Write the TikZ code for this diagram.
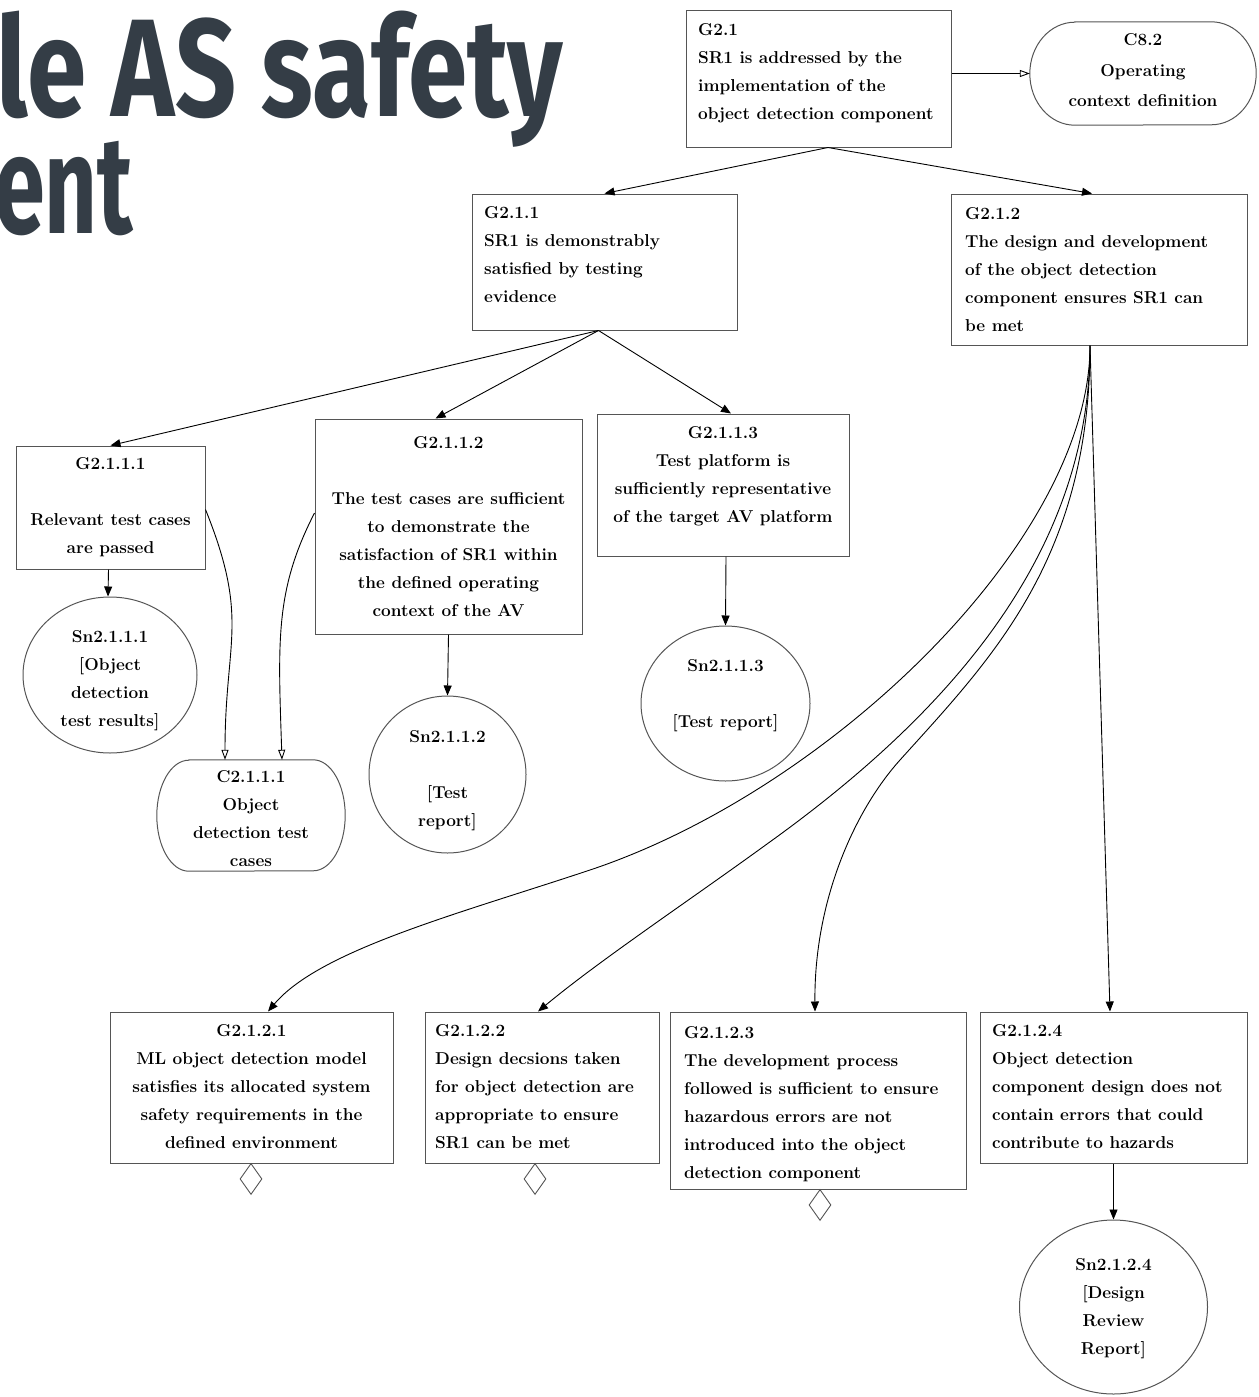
\documentclass[tikz,border=0pt]{standalone}
\usepackage{fontspec}
\newfontfamily\titlefont{Fira Sans}
\usetikzlibrary{shapes.geometric,arrows.meta}
\definecolor{titlecol}{HTML}{343D46}
\definecolor{boxcol}{HTML}{555555}
\newcommand\firstl{\rule{0pt}{20pt}}
\begin{document}
\begin{tikzpicture}[x=1pt,y=-1pt,
  box/.style={draw=boxcol, line width=1pt, rectangle, inner sep=0pt},
  ctxarea/.style={rectangle, inner sep=0pt},
  ctxline/.style={draw=boxcol, line width=1pt},
  sol/.style={draw=boxcol, line width=1pt, ellipse, inner sep=0pt},
  undev/.style={draw=boxcol, line width=0.9pt, diamond, inner sep=0pt, minimum width=22pt, minimum height=31pt, anchor=north},
  txt/.style={inner sep=0pt, font=\fontsize{17.2}{28}\selectfont\bfseries\addfontfeatures{LetterSpace=2}},
  tl/.style={txt, anchor=north west, align=left},
  tc/.style={txt, anchor=north, align=center},
  supp/.style={line width=0.9pt, -{Triangle[length=10pt,width=8pt]}},
  inctx/.style={line width=0.9pt, -{Triangle[open,length=10pt,width=7pt]}},
  ttl/.style={inner sep=0pt, anchor=base west, text=titlecol, font=\titlefont\bfseries\fontsize{139}{139}\selectfont},
]
\useasboundingbox (0,0) rectangle (1258,1397);
\clip (0,0) rectangle (1258,1397);

% title fragments
\node[ttl, text depth=0pt] (title1) at (-4,116) {\scalebox{0.77}[1]{le AS safety}};
\node[ttl, text height=80pt] (title2) at (-6,233) {\scalebox{0.66}[1]{ent}};

% ---- boxes and shapes
\node[box, minimum width=265pt, minimum height=136pt] (g21) at (818.5,79) {};
\node[ctxarea, minimum width=226pt, minimum height=103pt] (c82) at (1143,73.5) {};
\draw[ctxline] ([xshift=45pt]c82.north west) -- ([xshift=-45pt]c82.north east)
   arc[start angle=90, end angle=-90, x radius=45pt, y radius=51.5pt]
   -- ([xshift=45pt]c82.south west)
   arc[start angle=270, end angle=90, x radius=45pt, y radius=51.5pt] -- cycle;
\node[box, minimum width=265pt, minimum height=136pt] (g211) at (604.5,262) {};
\node[box, minimum width=296pt, minimum height=151pt] (g212) at (1099,269.5) {};
\node[box, minimum width=189pt, minimum height=123pt] (g2111) at (110.5,507.5) {};
\node[box, minimum width=267pt, minimum height=215pt] (g2112) at (448.5,526.5) {};
\node[box, minimum width=252pt, minimum height=142pt] (g2113) at (723,485) {};
\node[sol, minimum width=174pt, minimum height=156pt] (sn2111) at (110,675) {};
\node[ctxarea, minimum width=188pt, minimum height=111pt] (c2111) at (251,815.5) {};
\draw[ctxline] ([xshift=32pt]c2111.north west) -- ([xshift=-32pt]c2111.north east)
   arc[start angle=90, end angle=-90, x radius=32pt, y radius=55.5pt]
   -- ([xshift=32pt]c2111.south west)
   arc[start angle=270, end angle=90, x radius=32pt, y radius=55.5pt] -- cycle;
\node[sol, minimum width=157pt, minimum height=157pt] (sn2112) at (447.5,774.5) {};
\node[sol, minimum width=169pt, minimum height=155pt] (sn2113) at (725.5,703.5) {};
\node[box, minimum width=283pt, minimum height=151pt] (g2121) at (251.5,1087.5) {};
\node[box, minimum width=234pt, minimum height=151pt] (g2122) at (542,1087.5) {};
\node[box, minimum width=296pt, minimum height=177pt] (g2123) at (818,1100.5) {};
\node[box, minimum width=267pt, minimum height=151pt] (g2124) at (1113.5,1087.5) {};
\node[sol, minimum width=188pt, minimum height=174pt] (sn2124) at (1113.5,1307) {};

\node[undev] (u2121) at (251,1163) {};
\node[undev] (u2122) at (535,1163) {};
\node[undev] (u2123) at (820,1189) {};

% ---- texts
\node[tl] (g21t) at (698,15.5) {\firstl G2.1\\SR1 is addressed by the\\implementation of the\\object detection component};
\node[tc, font=\fontsize{17.2}{30.5}\selectfont\bfseries\addfontfeatures{LetterSpace=2}] (c82t) at (1143,25.5) {\firstl C8.2\\Operating\\context definition};
\node[tl] (g211t) at (484,198.5) {\firstl G2.1.1\\SR1 is demonstrably\\satisfied by testing\\evidence};
\node[tl] (g212t) at (965,199.5) {\firstl G2.1.2\\The design and development\\of the object detection\\component ensures SR1 can\\be met};
\node[tc] (g2111t) at (110.5,449.5) {\firstl G2.1.1.1\\[28pt]Relevant test cases\\are passed};
\node[tc] (g2112t) at (448.5,428.5) {\firstl G2.1.1.2\\[28pt]The test cases are sufficient\\to demonstrate the\\satisfaction of SR1 within\\the defined operating\\context of the AV};
\node[tc] (g2113t) at (723,418.5) {\firstl G2.1.1.3\\Test platform is\\sufficiently representative\\of the target AV platform};
\node[tc] (sn2111t) at (110,622.5) {\firstl Sn2.1.1.1\\{[Object}\\detection\\test results]};
\node[tc] (c2111t) at (251,762.5) {\firstl C2.1.1.1\\Object\\detection test\\cases};
\node[tc] (sn2112t) at (447.5,722.5) {\firstl Sn2.1.1.2\\[28pt]{[Test}\\report]};
\node[tc] (sn2113t) at (725.5,651.5) {\firstl Sn2.1.1.3\\[28pt]{[Test report]}};
\node[tc] (g2121t) at (251.5,1016.5) {\firstl G2.1.2.1\\ML object detection model\\satisfies its allocated system\\safety requirements in the\\defined environment};
\node[tl] (g2122t) at (435,1016.5) {\firstl G2.1.2.2\\Design decsions taken\\for object detection are\\appropriate to ensure\\SR1 can be met};
\node[tl] (g2123t) at (684,1018.5) {\firstl G2.1.2.3\\The development process\\followed is sufficient to ensure\\hazardous errors are not\\introduced into the object\\detection component};
\node[tl] (g2124t) at (992,1016.5) {\firstl G2.1.2.4\\Object detection\\component design does not\\contain errors that could\\contribute to hazards};
\node[tc] (sn2124t) at (1113.5,1250.5) {\firstl Sn2.1.2.4\\{[Design}\\Review\\Report]};

% ---- connectors
\draw[inctx] (g21.east |- c82.west) -- (c82.west);
\draw[supp] ([xshift=9.5pt]g21.south) -- (g211.north);
\draw[supp] ([xshift=9.5pt]g21.south) -- ([xshift=-7pt]g212.north);

\draw[supp] ([xshift=-6pt]g211.south) -- (g2111.north);
\draw[supp] ([xshift=-6pt]g211.south) -- ([xshift=-13pt]g2112.north);
\draw[supp] ([xshift=-6pt]g211.south) -- ([xshift=8pt]g2113.north);

\draw[supp] ([xshift=-2pt]g2111.south) -- ([xshift=-2pt]sn2111.north);
\draw[inctx] ([yshift=-2pt]g2111.east) .. controls (250,620) and (225,640) .. ([xshift=-26pt]c2111.north);
\draw[inctx] ([yshift=13.5pt]g2112.west) .. controls (275,590) and (278,640) .. ([xshift=31pt]c2111.north);
\draw[supp] (g2112.south) -- (sn2112.north);
\draw[supp] ([xshift=3pt]g2113.south) -- (sn2113.north);

\coordinate (g212s) at ([xshift=-9pt]g212.south);
\draw[supp] (g212s) .. controls (1090,540) and (830,790) .. (590,870)
   .. controls (458,914) and (320,950) .. ([xshift=16.5pt]g2121.north);
\draw[supp] (g212s) .. controls (1090,560) and (940,720) .. (767,844)
   .. controls (690,900) and (600,960) .. ([xshift=-4pt]g2122.north);
\draw[supp] (g212s) .. controls (1090,560) and (990,660) .. (900,760)
   .. controls (855,810) and (814,900) .. ([xshift=-3pt]g2123.north);
\draw[supp] (g212s) -- ([xshift=-3.5pt]g2124.north);
\draw[supp] (g2124.south) -- (sn2124.north);
\end{tikzpicture}
\end{document}
